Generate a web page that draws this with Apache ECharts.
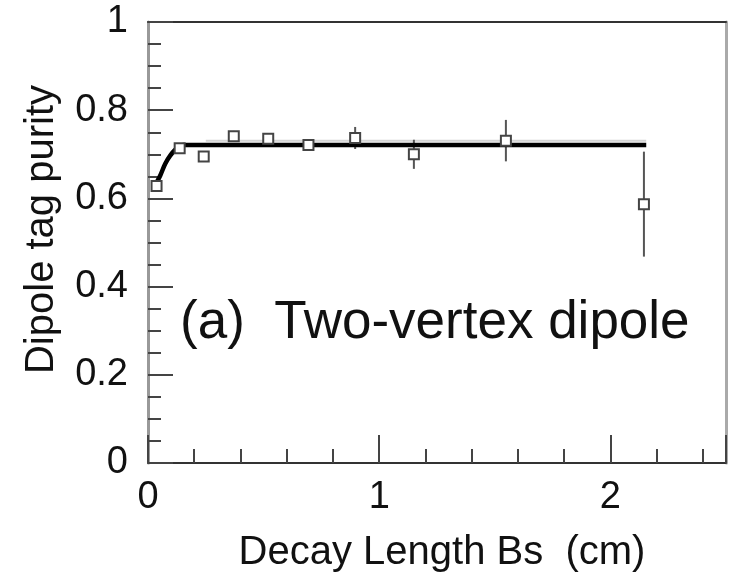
<!DOCTYPE html>
<html>
<head>
<meta charset="utf-8">
<script src="https://cdn.jsdelivr.net/npm/echarts@6/dist/echarts.min.js"></script>
<style>html,body{margin:0;padding:0;background:#fff;}#c{width:731px;height:574px;}</style>
</head>
<body>
<div id="c"></div>
<script>
// Data
const decayLength = [0.037, 0.137, 0.241, 0.371, 0.52, 0.694, 0.896, 1.15, 1.548, 2.145];
const purity      = [0.628, 0.714, 0.695, 0.741, 0.735, 0.721, 0.737, 0.70, 0.731, 0.587];
const purityErr   = [0.012, 0.008, 0.012, 0.012, 0.008, 0.01, 0.025, 0.033, 0.047, 0.119];
const fitX = [0.031, 0.053, 0.074, 0.096, 0.125, 0.154, 2.155];
const fitY = [0.630, 0.652, 0.678, 0.697, 0.714, 0.721, 0.721];
const shadowX = [0.25, 2.155];
const shadowY = [0.731, 0.731];
const xTicks = [0, 1, 2];
const yTicks = [0, 0.2, 0.4, 0.6, 0.8, 1];
const xTitle = 'Decay Length Bs  (cm)';
const yTitle = 'Dipole tag purity';
const panelLabel = '(a)  Two-vertex dipole';

const FONT = '"Liberation Sans", Arial, Helvetica, sans-serif';
const points = decayLength.map((x, i) => [x, purity[i]]);
const errData = decayLength.map((x, i) => [x, purity[i] - purityErr[i], purity[i] + purityErr[i]]);
const fitData = fitX.map((x, i) => [x, fitY[i]]);
const shadowData = shadowX.map((x, i) => [x, shadowY[i]]);

const chart = echarts.init(document.getElementById('c'), null, {renderer: 'canvas'});
chart.setOption({
  animation: false,
  backgroundColor: '#fff',
  grid: {left: 148, top: 22, right: 5, bottom: 111, show: false, containLabel: false, outerBoundsMode: 'none'},
  xAxis: [{
    type: 'value', min: 0, max: 2.5, interval: 1,
    name: xTitle, nameLocation: 'middle', nameGap: 70,
    nameTextStyle: {fontFamily: FONT, fontSize: 40, color: '#111', padding: [0, 0, 0, 10]},
    axisLine: {show: true, lineStyle: {color: '#333', width: 2}},
    axisTick: {show: true, inside: true, length: 28, lineStyle: {color: '#444', width: 2}},
    minorTick: {show: true, splitNumber: 5, length: 14, lineStyle: {color: '#444', width: 2}},
    axisLabel: {
      fontFamily: FONT, fontSize: 38, color: '#111', margin: 16,
      formatter: v => xTicks.includes(v) ? String(v) : ''
    },
    splitLine: {show: false}
  }, {
    type: 'value', position: 'top', min: 0, max: 2.5,
    axisLine: {show: true, onZero: false, lineStyle: {color: '#333', width: 2}},
    axisTick: {show: false}, axisLabel: {show: false}, splitLine: {show: false}
  }],
  yAxis: [{
    type: 'value', min: 0, max: 1, interval: 0.2,
    name: yTitle, nameLocation: 'middle', nameGap: 86,
    nameTextStyle: {fontFamily: FONT, fontSize: 40, color: '#111', padding: [0, 0, 0, 26]},
    axisLine: {show: true, lineStyle: {color: '#999', width: 3}},
    axisTick: {show: true, inside: true, length: 25, lineStyle: {color: '#444', width: 2}},
    minorTick: {show: true, splitNumber: 4, length: 13, lineStyle: {color: '#444', width: 2}},
    axisLabel: {
      fontFamily: FONT, fontSize: 38, color: '#111', margin: 20,
      formatter: v => yTicks.some(t => Math.abs(t - v) < 1e-9) ? String(+v.toFixed(1)) : ''
    },
    splitLine: {show: false}
  }, {
    type: 'value', position: 'right', min: 0, max: 1,
    axisLine: {show: true, onZero: false, lineStyle: {color: '#aaa', width: 3}},
    axisTick: {show: false}, axisLabel: {show: false}, splitLine: {show: false}
  }],
  graphic: [{
    type: 'text', left: 180, top: 297, silent: true,
    style: {text: panelLabel, font: '53px ' + FONT, fill: '#111'}
  }],
  series: [
    {
      type: 'line', data: shadowData, showSymbol: false, symbol: 'none',
      lineStyle: {color: '#d4d4d4', width: 2}, z: 1
    },
    {
      type: 'custom', z: 2,
      renderItem: function (params, api) {
        const x = api.value(0);
        const p1 = api.coord([x, api.value(1)]);
        const p2 = api.coord([x, api.value(2)]);
        return {type: 'line', shape: {x1: p1[0], y1: p1[1], x2: p2[0], y2: p2[1]},
                style: {stroke: '#555', lineWidth: 2}};
      },
      data: errData
    },
    {
      type: 'line', data: fitData, showSymbol: false, symbol: 'none', smooth: 0.3,
      lineStyle: {color: '#000', width: 4.5}, z: 3
    },
    {
      type: 'scatter', data: points, symbol: 'rect', symbolSize: 10,
      itemStyle: {color: '#fff', borderColor: '#444', borderWidth: 2, opacity: 1}, z: 4
    }
  ]
});
</script>
</body>
</html>
